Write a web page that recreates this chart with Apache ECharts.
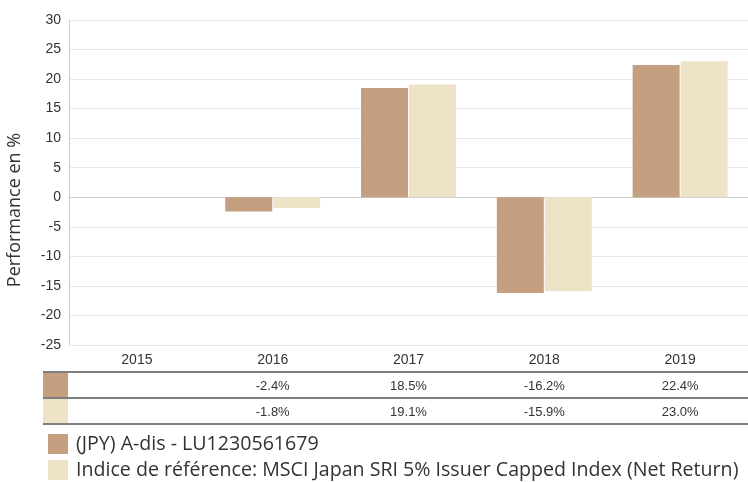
<!DOCTYPE html>
<html>
<head>
<meta charset="utf-8">
<script src="https://cdn.jsdelivr.net/npm/echarts@6/dist/echarts.min.js"></script>
<style>
  html, body { margin: 0; padding: 0; background: #fff; }
  #chart { width: 748px; height: 482px; }
</style>
</head>
<body>
<div id="chart"></div>
<script>
// data
var years = ['2015', '2016', '2017', '2018', '2019'];
var fundValues = [null, -2.4, 18.5, -16.2, 22.4];
var indexValues = [null, -1.8, 19.1, -15.9, 23.0];
var fundName = '(JPY) A-dis - LU1230561679';
var indexName = 'Indice de référence: MSCI Japan SRI 5% Issuer Capped Index (Net Return)';

var fundColor = '#C4A081';
var indexColor = '#EFE3C7';

function pct(v) {
  return v == null ? '' : v.toFixed(1) + '%';
}

var chart = echarts.init(document.getElementById('chart'));

// extra x axes used as the little data table under the chart
function tableAxis(values, offset) {
  return {
    type: 'category',
    gridIndex: 0,
    position: 'bottom',
    offset: offset,
    data: values.map(pct),
    axisLine: { show: false },
    axisTick: { show: false },
    splitLine: { show: false },
    axisLabel: {
      interval: 0,
      margin: 8,
      color: '#333',
      fontSize: 13,
      fontFamily: 'Liberation Sans'
    }
  };
}

chart.setOption({
  animation: false,
  grid: { left: 69, right: 0, top: 20, bottom: 137 },
  legend: {
    orient: 'vertical',
    left: 48,
    top: 434,
    padding: 0,
    height: 60,
    itemWidth: 20,
    itemHeight: 20,
    itemGap: 6,
    icon: 'rect',
    selectedMode: false,
    textStyle: { fontSize: 19.6, fontFamily: 'Open Sans', color: '#333', padding: [0, 0, 0, 3] },
    data: [fundName, indexName]
  },
  xAxis: [
    {
      type: 'category',
      data: years,
      axisLine: { lineStyle: { color: '#ccc' } },
      axisTick: { show: false },
      axisLabel: { margin: 8, color: '#333', fontSize: 14, fontFamily: 'Liberation Sans' }
    },
    tableAxis(fundValues, 27),
    tableAxis(indexValues, 53)
  ],
  yAxis: {
    type: 'value',
    min: -25,
    max: 30,
    interval: 5,
    axisLine: { show: true, lineStyle: { color: '#ccc' } },
    axisTick: { show: false },
    splitLine: { lineStyle: { color: '#e8e8e8' } },
    axisLabel: { margin: 8, color: '#333', fontSize: 14, fontFamily: 'Liberation Sans' }
  },
  graphic: [
    {
      type: 'text',
      x: 15, y: 210,
      rotation: Math.PI / 2,
      style: {
        text: 'Performance en %',
        font: '18px "Open Sans"',
        fill: '#333',
        align: 'center',
        verticalAlign: 'middle'
      }
    },
    { type: 'line', shape: { x1: 43, y1: 372, x2: 748, y2: 372 }, style: { stroke: '#555', lineWidth: 1.5 } },
    { type: 'line', shape: { x1: 43, y1: 398, x2: 748, y2: 398 }, style: { stroke: '#555', lineWidth: 1.5 } },
    { type: 'line', shape: { x1: 43, y1: 424, x2: 748, y2: 424 }, style: { stroke: '#555', lineWidth: 1.5 } },
    { type: 'rect', shape: { x: 43, y: 373, width: 25, height: 24 }, style: { fill: fundColor } },
    { type: 'rect', shape: { x: 43, y: 399, width: 25, height: 24 }, style: { fill: indexColor } }
  ],
  series: [
    {
      name: fundName,
      type: 'bar',
      data: fundValues,
      barWidth: 47,
      barGap: '2%',
      itemStyle: { color: fundColor }
    },
    {
      name: indexName,
      type: 'bar',
      data: indexValues,
      barWidth: 47,
      itemStyle: { color: indexColor }
    }
  ]
});
</script>
</body>
</html>
